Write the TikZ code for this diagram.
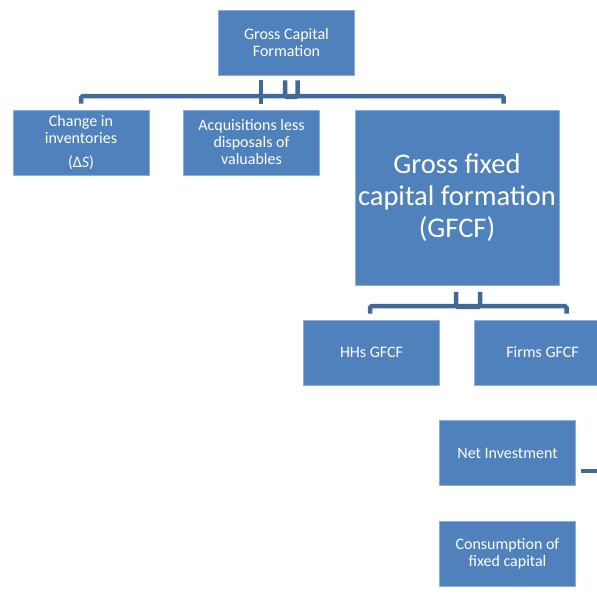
\documentclass[tikz,border=0pt]{standalone}
\usepackage{fontspec}
\setmainfont{Carlito}
\usetikzlibrary{calc}
\definecolor{boxblue}{HTML}{4F81BD}
\definecolor{boxedge}{HTML}{8FAEDA}
\definecolor{connblue}{HTML}{41699A}
\begin{document}
\begin{tikzpicture}[x=1pt,y=-1pt,
  box/.style={rectangle, fill=boxblue, draw=boxedge, line width=0.6pt,
    text=white, inner sep=0pt, align=center,
    minimum width=136pt, minimum height=65pt,
    font=\fontsize{16}{17}\selectfont},
  bigbox/.style={box, minimum width=204pt, minimum height=175pt,
    font=\fontsize{28.5}{32}\selectfont},
  conn/.style={draw=connblue, line width=4.5pt, rounded corners=1.5pt}]
\useasboundingbox (0,0) rectangle (597,594);
\clip (0,0) rectangle (597,594);

\node[box] (gcf) at (286.5,42.5) {Gross Capital\\Formation};
\node[box] (chg) at (81,142.5) {Change in\\inventories\\[7pt](Δ\textit{S})};
\node[box] (acq) at (251.5,142.5) {Acquisitions less\\disposals of\\valuables};
\node[bigbox] (gfcf) at (457,197.5) {Gross fixed\\capital formation\\(GFCF)};
\node[box] (hhs) at (371.5,352.5) {HHs GFCF};
\node[box] (firms) at (542.5,352.5) {Firms GFCF};
\node[box] (net) at (507.5,453) {Net Investment};
\node[box] (cfc) at (507.5,553.5) {Consumption of\\fixed capital};

% top connector
\coordinate (tl) at ($(chg.north)+(0,-6)$);
\coordinate (tr) at ($(gfcf.north west)+(149,-6)$);
\draw[conn] (tl) -- ($(tl)+(0,-7.5)$) -| (tr);
\draw[conn] ($(gcf.south west)+(43,5)$) -- ($(gcf.south west)+(43,29)$);
\draw[conn] ($(gcf.south west)+(67,5)$) |- ($(gcf.south west)+(79.5,21.5)$) -- ($(gcf.south west)+(79.5,5)$);

% GFCF connector
\coordinate (bl) at ($(hhs.north)+(-1.5,-6)$);
\coordinate (br) at ($(firms.north)+(24,-6)$);
\draw[conn] (bl) -- ($(bl)+(0,-7.5)$) -| (br);
\draw[conn] ($(gfcf.south west)+(101.5,6.5)$) |- ($(gfcf.south west)+(125.5,21.5)$) -- ($(gfcf.south west)+(125.5,6.5)$);

% net investment connector
\coordinate (nr) at ($(net.east)+(40,0)$);
\draw[draw=connblue, line width=4.5pt] ($(net.east)+(5.5,18)$) -- ($(nr)+(0,18)$);
\end{tikzpicture}
\end{document}
